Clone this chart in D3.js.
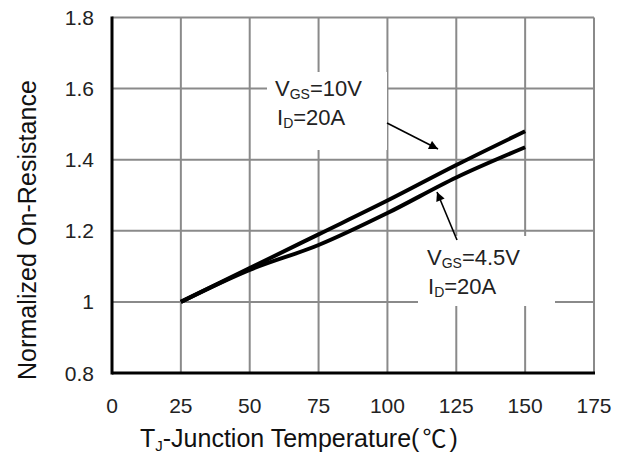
<!DOCTYPE html>
<html>
<head>
<meta charset="utf-8">
<script src="https://cdn.jsdelivr.net/npm/d3@7.9.0/dist/d3.min.js"></script>
<style>
  body { margin: 0; background: #fff; }
  svg { display: block; font-family: Arial, "Liberation Sans", sans-serif; }
</style>
</head>
<body>
<svg width="630" height="454"></svg>
<script>
// data
const temps = [25, 50, 75, 100, 125, 150];
const rdson10V = [1.0, 1.095, 1.19, 1.285, 1.385, 1.48];
const rdson45V = [1.0, 1.09, 1.16, 1.25, 1.35, 1.435];
const xTicks = [0, 25, 50, 75, 100, 125, 150, 175];
const yTicks = [0.8, 1.0, 1.2, 1.4, 1.6, 1.8];
const yTickLabels = ["0.8", "1", "1.2", "1.4", "1.6", "1.8"];

let svg = d3.select("svg");
let x = d3.scaleLinear().domain([0, 175]).range([112, 594]);
let y = d3.scaleLinear().domain([0.8, 1.8]).range([373, 17.5]);

let grid = svg.append("g").attr("stroke", "#8a8a8a").attr("stroke-width", 2);

// vertical grid lines (and right border)
grid.selectAll("line.v")
    .data(xTicks.slice(1))
    .enter()
    .append("line")
    .attr("x1", d => x(d)).attr("x2", d => x(d))
    .attr("y1", y(0.8)).attr("y2", y(1.8));

// horizontal grid lines (and top border)
grid.selectAll("line.h")
    .data(yTicks.slice(1))
    .enter()
    .append("line")
    .attr("x1", x(0)).attr("x2", x(175))
    .attr("y1", d => y(d)).attr("y2", d => y(d));

// white boxes behind the annotations
svg.append("rect").attr("x", 267).attr("y", 72).attr("width", 120).attr("height", 78).attr("fill", "#fff");
svg.append("rect").attr("x", 418).attr("y", 236).attr("width", 137).attr("height", 70).attr("fill", "#fff");

// curves
let line = d3.line().curve(d3.curveMonotoneX).x((d, i) => x(temps[i])).y(d => y(d));
[rdson10V, rdson45V].forEach(s => {
    svg.append("path")
        .attr("d", line(s))
        .attr("fill", "none")
        .attr("stroke", "#000")
        .attr("stroke-width", 4)
        .attr("stroke-linejoin", "round");
});

// black axes
svg.append("line").attr("x1", x(0)).attr("x2", x(0)).attr("y1", y(1.8) - 1).attr("y2", y(0.8) + 1.5)
    .attr("stroke", "#000").attr("stroke-width", 3);
svg.append("line").attr("x1", x(0)).attr("x2", x(175) + 1).attr("y1", y(0.8)).attr("y2", y(0.8))
    .attr("stroke", "#000").attr("stroke-width", 3);

// tick labels
svg.append("g").selectAll("text")
    .data(yTicks)
    .enter()
    .append("text")
    .attr("x", 94)
    .attr("y", d => y(d))
    .attr("dy", "0.36em")
    .attr("text-anchor", "end")
    .attr("font-size", 21)
    .attr("fill", "#222")
    .text((d, i) => yTickLabels[i]);

svg.append("g").selectAll("text")
    .data(xTicks)
    .enter()
    .append("text")
    .attr("x", d => x(d))
    .attr("y", 413)
    .attr("text-anchor", "middle")
    .attr("font-size", 21)
    .attr("fill", "#222")
    .text(d => d);

// axis titles
let xt = svg.append("text").attr("x", 140).attr("y", 447).attr("font-size", 25).attr("fill", "#111");
xt.append("tspan").text("T");
xt.append("tspan").attr("font-size", 15).attr("dy", 4).text("J");
xt.append("tspan").attr("dy", -4).text("-Junction Temperature(");
xt.append("tspan").attr("font-family", "'Noto Sans CJK SC', sans-serif").attr("font-size", 24).attr("dx", 3).text("℃");
xt.append("tspan").attr("dx", 3).text(")");

svg.append("text")
    .attr("transform", "translate(36,380) rotate(-90)")
    .attr("font-size", 25)
    .attr("textLength", 300)
    .attr("fill", "#111")
    .text("Normalized On-Resistance");

// annotations
function label(x0, y0, sub, rest) {
    let t = svg.append("text").attr("x", x0).attr("y", y0).attr("font-size", 22).attr("fill", "#222");
    t.append("tspan").text(sub[0]);
    t.append("tspan").attr("font-size", 14).attr("dy", 3).text(sub[1]);
    t.append("tspan").attr("dy", -3).text(rest);
}
label(275, 96, ["V", "GS"], "=10V");
label(277, 125, ["I", "D"], "=20A");
label(427, 265, ["V", "GS"], "=4.5V");
label(428, 294, ["I", "D"], "=20A");

// arrows
svg.append("defs").append("marker")
    .attr("id", "head")
    .attr("viewBox", "0 0 10 10")
    .attr("refX", 10).attr("refY", 5)
    .attr("markerWidth", 12).attr("markerHeight", 9)
    .attr("markerUnits", "userSpaceOnUse")
    .attr("orient", "auto")
    .append("path").attr("d", "M0,0L10,5L0,10Z").attr("fill", "#000");

svg.append("line").attr("x1", 387).attr("y1", 123).attr("x2", 438).attr("y2", 149)
    .attr("stroke", "#000").attr("stroke-width", 1.6).attr("marker-end", "url(#head)");
svg.append("line").attr("x1", 457).attr("y1", 240).attr("x2", 437).attr("y2", 192)
    .attr("stroke", "#000").attr("stroke-width", 1.6).attr("marker-end", "url(#head)");
</script>
</body>
</html>
